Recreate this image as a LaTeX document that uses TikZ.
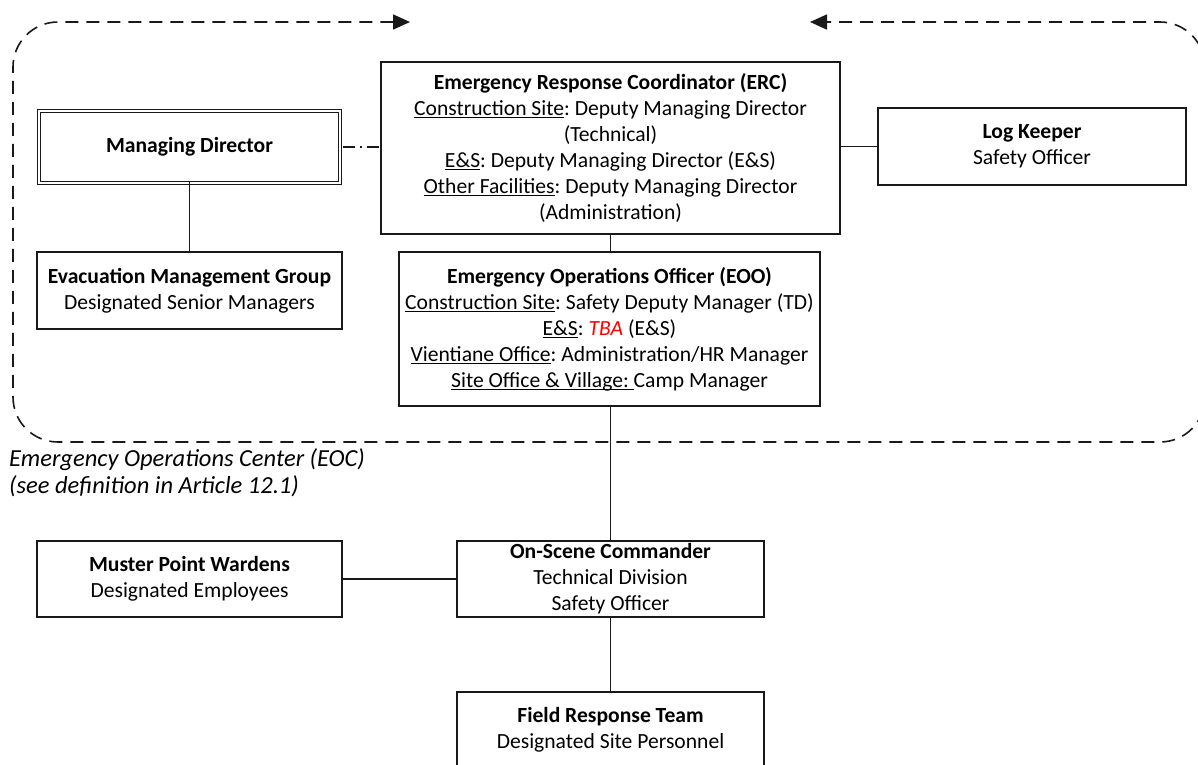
\documentclass[tikz,border=0pt]{standalone}
\usepackage{fontspec}
\setmainfont{Carlito}
\usetikzlibrary{arrows.meta}
\frenchspacing
\newsavebox\myulbox
\newcommand\myul[1]{\sbox\myulbox{#1}\rlap{\rule[-2.8pt]{\wd\myulbox}{1.2pt}}\usebox\myulbox}
\tikzset{
  box/.style={draw=black!90, line width=1.5pt, inner sep=0pt, align=center, font=\fontsize{21.6}{26}\selectfont},
  dbox/.style={box, double, double distance=2.2pt, line width=1.3pt},
  conn/.style={draw=black!90, line width=1.5pt},
  eocline/.style={draw=black!90, line width=1.6pt, dash pattern=on 13pt off 8pt, rounded corners=45pt},
  mytip/.tip={Triangle[length=17pt,width=15pt]}
}
\begin{document}
\begin{tikzpicture}[x=1pt,y=-1pt]
\useasboundingbox (0,0) rectangle (1198,764);
\clip (0,0) rectangle (1198,764);
% EOC dashed boundary
\coordinate (tl) at (410,22);
\coordinate (tr) at (810,22);
\draw[eocline, mytip-mytip] (tl) -- (13,22) -- (13,442) -- (1205,442) -- (1205,22) -- (tr);
% nodes
\node[dbox, minimum width=301pt, minimum height=72pt] (md) at (189.5,147) {\textbf{Managing Director}};
\node[box, minimum width=459pt, minimum height=172pt] (erc) at (610.5,148) {\textbf{Emergency Response Coordinator (ERC)}\\
\myul{Construction Site}: Deputy Managing Director\\(Technical)\\
\myul{E\&S}: Deputy Managing Director (E\&S)\\
\myul{Other Facilities}: Deputy Managing Director\\(Administration)};
\node[box, minimum width=308pt, minimum height=77pt] (lk) at (1032,146.5) {\textbf{Log Keeper}\\Safety Officer};
\node[box, minimum width=305pt, minimum height=77pt] (emg) at (189.5,290.5) {\textbf{Evacuation Management Group}\\Designated Senior Managers};
\node[box, minimum width=421pt, minimum height=154pt] (eoo) at (609.5,329) {\textbf{Emergency Operations Officer (EOO)}\\
\myul{Construction Site}: Safety Deputy Manager (TD)\\
\myul{E\&S}: \textcolor{red}{\textit{TBA}} (E\&S)\\
\myul{Vientiane Office}: Administration/HR Manager\\
\myul{Site Office \& Village:\ }Camp Manager};
\node[box, minimum width=307pt, minimum height=76pt] (osc) at (610.5,579) {\textbf{On-Scene Commander}\\Technical Division\\Safety Officer};
\node[box, minimum width=305pt, minimum height=76pt] (mpw) at (189.5,579) {\textbf{Muster Point Wardens}\\Designated Employees};
\node[box, minimum width=307pt, minimum height=76pt] (frt) at (610.5,730) {\textbf{Field Response Team}\\Designated Site Personnel};
\node[anchor=west, align=left, inner sep=0pt, font=\fontsize{24.5}{27}\selectfont\itshape] (eoc) at (9,472.5) {Emergency Operations Center (EOC)\\(see definition in Article 12.1)};
% connectors
\draw[conn, dash pattern=on 12pt off 5pt on 2pt off 5pt] (md.east) ++(2.4pt,0) -- (md.east -| erc.west);
\draw[conn] (erc.east |- lk.west) -- (lk.west);
\draw[conn] (md.south) ++(0,2.4pt) -- (emg.north);
\draw[conn] (erc.south) -- (erc.south |- eoo.north);
\draw[conn] (eoo.south -| osc.north) -- (osc.north);
\draw[conn] (mpw.east) -- (mpw.east -| osc.west);
\draw[conn] (osc.south) -- (frt.north);
\end{tikzpicture}
\end{document}
